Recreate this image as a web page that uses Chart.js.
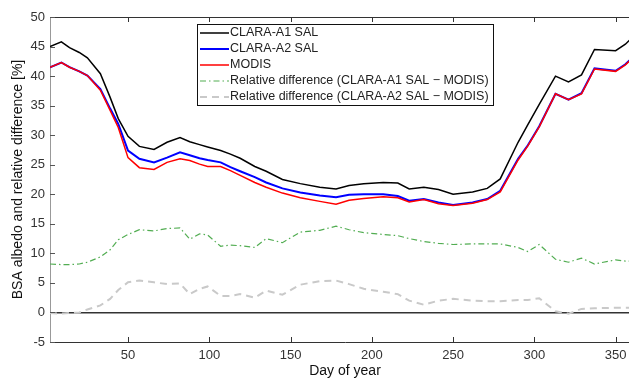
<!DOCTYPE html>
<html>
<head>
<meta charset="utf-8">
<script src="https://cdn.jsdelivr.net/npm/chart.js@4/dist/chart.umd.min.js"></script>
<style>
  html, body { margin: 0; padding: 0; background: #fff; overflow: hidden; }
  #wrap { width: 642px; height: 381px; }
</style>
</head>
<body>
<div id="wrap"><canvas id="albedoChart"></canvas></div>
<script>
// Day of year and the five series
const days = [2, 9, 14, 20, 25, 33, 39, 44, 50, 57, 66, 74, 82, 88, 94, 99, 107, 113, 119, 128,
  135, 145, 156, 168, 178, 186, 195, 207, 216, 223, 232, 241, 250, 262, 271, 279, 290, 296, 303, 313,
  321, 329, 337, 350, 356, 365];

const claraA1 = [45.0, 45.8, 44.8, 44.0, 43.1, 40.4, 36.4, 32.8, 29.8, 28.1, 27.6, 28.8, 29.6, 28.9, 28.4,
  28.0, 27.4, 26.8, 26.1, 24.7, 23.9, 22.5, 21.8, 21.2, 20.9, 21.5, 21.8, 22.0, 21.9, 20.9,
  21.2, 20.8, 20.0, 20.4, 21.0, 22.6, 28.8, 31.8, 35.2, 40.0, 39.0, 40.2, 44.5, 44.3, 45.4, 47.8];

const claraA2 = [41.5, 42.3, 41.5, 40.8, 40.1, 37.8, 34.5, 31.9, 27.4, 26.0, 25.4, 26.2, 27.1, 26.6, 26.1,
  25.8, 25.4, 24.6, 23.9, 22.9, 22.0, 21.0, 20.3, 19.8, 19.5, 19.9, 20.0, 20.0, 19.7, 18.9,
  19.2, 18.6, 18.2, 18.6, 19.2, 20.6, 26.0, 28.3, 31.5, 37.0, 36.0, 37.1, 41.3, 40.9, 42.0, 44.3];

const modis = [41.5, 42.3, 41.5, 40.8, 40.1, 37.6, 34.2, 31.3, 26.2, 24.5, 24.2, 25.4, 26.0, 25.7, 25.1,
  24.7, 24.7, 24.0, 23.2, 22.0, 21.2, 20.2, 19.4, 18.8, 18.3, 19.0, 19.3, 19.6, 19.4, 18.7,
  19.1, 18.4, 18.1, 18.5, 19.1, 20.4, 25.8, 28.2, 31.4, 37.0, 36.0, 37.0, 41.2, 40.8, 41.9, 44.2];

const relDiffA1 = [8.2, 8.1, 8.1, 8.2, 8.5, 9.4, 10.6, 12.3, 13.2, 14.0, 13.8, 14.2, 14.3, 12.4, 13.3,
  13.1, 11.2, 11.4, 11.3, 11.0, 12.5, 11.8, 13.6, 13.9, 14.6, 14.0, 13.5, 13.2, 13.0, 12.5,
  12.0, 11.7, 11.5, 11.6, 11.6, 11.6, 11.0, 10.3, 11.5, 9.0, 8.5, 9.2, 8.2, 8.9, 8.7, 8.6];

const relDiffA2 = [-0.1, -0.2, -0.1, 0.0, 0.5, 1.2, 2.3, 3.8, 5.1, 5.4, 5.1, 4.8, 4.9, 3.1, 4.0,
  4.4, 2.8, 2.8, 3.1, 2.5, 3.7, 3.0, 4.7, 5.3, 5.4, 4.8, 4.0, 3.5, 3.1, 2.0,
  1.3, 2.0, 2.3, 2.0, 1.9, 1.9, 2.1, 2.1, 2.4, 0.2, -0.2, 0.6, 0.7, 0.8, 0.8, 0.8];

const xTicks = [50, 100, 150, 200, 250, 300, 350];
const yTicks = [-5, 0, 5, 10, 15, 20, 25, 30, 35, 40, 45, 50];

const FONT = "'Liberation Sans', Arial, sans-serif";

const toPoints = values => days.map((d, i) => ({ x: d, y: values[i] }));

// Matlab-style box: top border, inward ticks and the boxed legend
const matlabFrame = {
  id: 'matlabFrame',
  afterDatasetsDraw(chart) {
    const { ctx, chartArea: a, scales: { x, y } } = chart;
    ctx.save();
    ctx.strokeStyle = '#333';
    ctx.lineWidth = 1;
    ctx.beginPath();
    ctx.moveTo(a.left, a.top + 0.5);
    ctx.lineTo(a.right, a.top + 0.5);
    xTicks.forEach(v => {
      const px = Math.round(x.getPixelForValue(v)) + 0.5;
      ctx.moveTo(px, a.bottom);
      ctx.lineTo(px, a.bottom - 5);
      ctx.moveTo(px, a.top);
      ctx.lineTo(px, a.top + 5);
    });
    ctx.stroke();
    ctx.strokeStyle = '#555';
    ctx.beginPath();
    yTicks.forEach(v => {
      const py = Math.round(y.getPixelForValue(v)) + 0.5;
      ctx.moveTo(a.left, py);
      ctx.lineTo(a.left + 5, py);
    });
    ctx.stroke();

    // legend box
    const box = { left: 197.5, top: 24.5, width: 296, height: 81 };
    ctx.fillStyle = '#fff';
    ctx.fillRect(box.left, box.top, box.width, box.height);
    ctx.strokeStyle = '#111';
    ctx.lineWidth = 1;
    ctx.strokeRect(box.left, box.top, box.width, box.height);

    ctx.font = '12.5px ' + FONT;
    ctx.textBaseline = 'middle';
    chart.data.datasets.forEach((ds, i) => {
      const rowY = 33 + i * 16;
      ctx.strokeStyle = ds.borderColor;
      ctx.lineWidth = ds.borderWidth;
      ctx.setLineDash(ds.borderDash || []);
      ctx.beginPath();
      ctx.moveTo(200, rowY);
      ctx.lineTo(229, rowY);
      ctx.stroke();
      ctx.setLineDash([]);
      ctx.fillStyle = '#222';
      ctx.fillText(ds.label, 230, rowY);
    });
    ctx.restore();
  }
};

new Chart(document.getElementById('albedoChart'), {
  type: 'line',
  data: {
    datasets: [
      { label: 'CLARA-A1 SAL', data: toPoints(claraA1), borderColor: '#000000', borderWidth: 1.5, order: 3 },
      { label: 'CLARA-A2 SAL', data: toPoints(claraA2), borderColor: '#0000ff', borderWidth: 2, order: 2 },
      { label: 'MODIS', data: toPoints(modis), borderColor: '#ff0000', borderWidth: 1.5, order: 1 },
      { label: 'Relative difference (CLARA-A1 SAL \u2212 MODIS)', data: toPoints(relDiffA1),
        borderColor: '#52ad52', borderWidth: 1.2, borderDash: [6, 3, 1.5, 3], order: 4 },
      { label: 'Relative difference (CLARA-A2 SAL \u2212 MODIS)', data: toPoints(relDiffA2),
        borderColor: '#c9c9c9', borderWidth: 2, borderDash: [7, 5], order: 5 }
    ]
  },
  options: {
    responsive: true,
    maintainAspectRatio: false,
    animation: false,
    layout: { padding: { top: 17, right: 2, left: 0, bottom: 0 } },
    elements: { point: { radius: 0 }, line: { tension: 0 } },
    plugins: { legend: { display: false }, tooltip: { enabled: false } },
    scales: {
      x: {
        type: 'linear',
        min: 2,
        max: 365,
        afterFit: scale => { scale.height = 39; },
        afterBuildTicks: scale => { scale.ticks = xTicks.map(v => ({ value: v })); },
        grid: { display: false, drawTicks: false },
        border: { color: '#333', width: 1 },
        ticks: { color: '#333', padding: 6, font: { family: FONT, size: 13 } },
        title: { display: true, text: 'Day of year', color: '#111', padding: { top: 0, bottom: 1 },
          font: { family: FONT, size: 14 } }
      },
      y: {
        min: -5,
        max: 50,
        afterFit: scale => { scale.width = 50; },
        afterBuildTicks: scale => { scale.ticks = yTicks.map(v => ({ value: v })); },
        grid: {
          drawTicks: false,
          color: ctx => (ctx.tick && ctx.tick.value === 0 ? '#333' : 'rgba(0,0,0,0)'),
          lineWidth: ctx => (ctx.tick && ctx.tick.value === 0 ? 1.5 : 0)
        },
        border: { color: '#999', width: 1 },
        ticks: { color: '#333', padding: 5, font: { family: FONT, size: 13 } },
        title: { display: true, text: 'BSA albedo and relative difference [%]', color: '#111',
          padding: { top: 10, bottom: 0 }, font: { family: FONT, size: 14 } }
      }
    }
  },
  plugins: [matlabFrame]
});
</script>
</body>
</html>
